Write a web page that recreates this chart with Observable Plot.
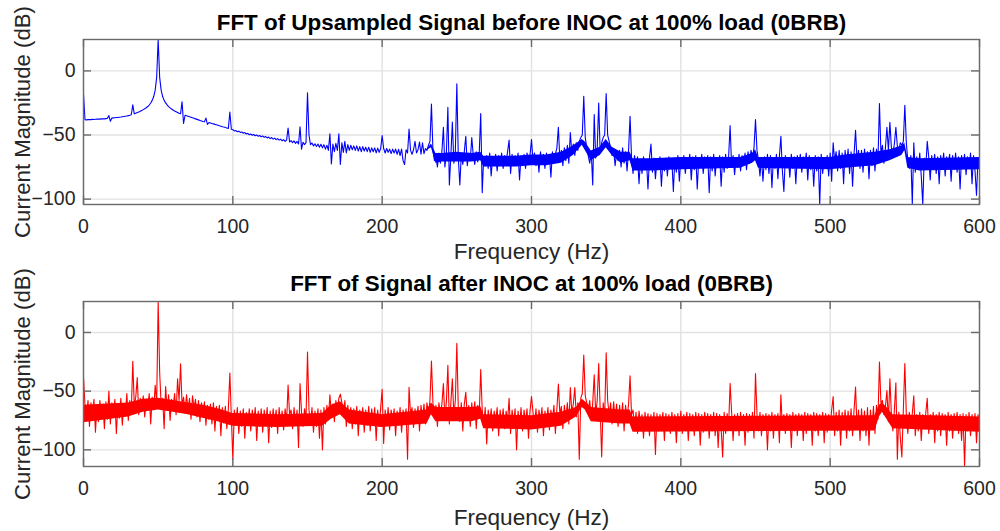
<!DOCTYPE html>
<html><head><meta charset="utf-8">
<script src="https://cdn.jsdelivr.net/npm/d3@7"></script>
<script src="https://cdn.jsdelivr.net/npm/@observablehq/plot@0.6"></script>
<style>
body{margin:0;background:#fff;font-family:"Liberation Sans",Arial,Helvetica,sans-serif;}
svg{display:block}
</style></head><body><div id="chart"></div>
<script>
// Frequency grid of the spectra (Hz), one sample per Hz
const freqHz = d3.range(0, 601);
const xTicks = [0, 100, 200, 300, 400, 500, 600];
const yTicks = [-100, -50, 0];
const titleTop = "FFT of Upsampled Signal before INOC at 100% load (0BRB)";
const titleBottom = "FFT of Signal after INOC at 100% load (0BRB)";
const xLabel = "Frequency (Hz)";
const yLabel = "Current Magnitude (dB)";
const yDomainTop = [-104.2, 24.5];
const yDomainBottom = [-114.2, 26.4];

// Magnitude (dB) before INOC at 0..600 Hz
const blueDb = [
-18, -38, -38.2, -38, -37.9, -38, -37.8, -37.9, -37.7, -37.6,
-37.5, -37.6, -37.4, -37.3, -37.4, -37.2, -37, -34.8, -39.3, -36.8,
-36.6, -36.5, -36.4, -36.3, -36.1, -36, -35.8, -35.6, -35.4, -35.2,
-34.9, -34.6, -34.2, -26.5, -33.5, -33, -32.5, -32, -31.4, -30.8,
-30.2, -29.5, -28.7, -27.8, -26.6, -25, -23, -20, -15, -5,
24.5, -5, -15, -20, -23, -25, -26.5, -27.8, -28.8, -29.7,
-30.5, -31.2, -31.8, -32.4, -33, -33.4, -24, -41, -34.6, -35,
-35.4, -35.8, -36.2, -36.6, -37, -37.4, -37.8, -38.2, -38.6, -39,
-39.4, -39.6, -36.8, -41.8, -40.2, -40.6, -41, -41.3, -41.7, -42,
-42.4, -42.8, -43.1, -43.5, -43.8, -44.2, -44.5, -44.9, -32, -45.5,
-45.8, -46.8, -46.4, -47.5, -47, -48, -47.6, -48.6, -48.1, -49.2,
-48.7, -49.8, -49.2, -50.2, -49.6, -50.6, -50, -51, -50.4, -51.4,
-50.8, -51.8, -51.2, -52.3, -51.6, -52.8, -52, -53.2, -52.4, -53.6,
-52.8, -54, -53.2, -54.5, -53.6, -55, -54, -44.5, -55.5, -54.4,
-56, -54.6, -56.5, -55, -57, -43.5, -61, -55.6, -57.5, -56,
-17, -50, -57.5, -56.2, -58.5, -56.8, -59, -57, -59.5, -57.2,
-60, -57.5, -61, -58, -62, -49, -72.6, -57, -63, -56.5,
-62, -49, -73, -56, -63.5, -55, -64, -57.5, -62, -58,
-61.5, -58.5, -62, -58.5, -62.5, -59, -63, -59, -62.5, -59.5,
-63, -59.5, -63.5, -60, -63, -60, -64, -60.2, -63.5, -60.5,
-50.5, -60.5, -64, -60.5, -63.5, -61, -64.5, -61, -64, -61,
-65, -61.2, -66, -61, -70, -73, -61.5, -64, -45.3, -62,
-65, -61.5, -55, -64, -61.5, -55.5, -65, -56, -64.5, -60.5,
-62, -58, -55, -25.8, -62, -70, -66, -75, -64, -72,
-63, -44, -75, -64, -28.4, -89, -66, -39.8, -72, -63,
-10, -68, -89, -65, -73, -63, -51, -74, -64, -70,
-52, -66, -73, -63, -71, -64, -33.3, -95, -67, -74,
-66, -76, -64, -82, -67, -73, -65, -78, -66, -72,
-64, -76, -66, -71, -63, -54, -80, -65, -74, -66,
-72, -64, -85, -66, -73, -65, -76, -64, -71, -66,
-53.6, -70, -64, -74, -66, -79, -63, -72, -65, -76,
-64, -71, -66, -83, -63, -72, -65, -60, -44, -70,
-62, -74, -60, -70, -58, -72, -48, -64, -57, -66,
-56, -62, -55, -52, -50, -19.8, -52, -60, -66, -72,
-63, -89, -34, -68, -60, -25, -64, -56, -52, -50,
-17.7, -50, -55, -60, -66, -62, -74, -64, -70, -62,
-75, -60, -72, -63, -78, -62, -35.4, -68, -80, -66,
-75, -67, -88, -69, -80, -67, -77, -70, -92, -68,
-57, -79, -68, -84, -70, -76, -67, -90, -69, -78,
-68, -82, -67, -76, -70, -94, -68, -79, -66, -86,
-68, -76, -66, -80, -69, -73, -65, -85, -67, -77,
-66, -92, -68, -75, -65, -80, -67, -74, -66, -95,
-67, -78, -65, -82, -68, -74, -66, -90, -67, -79,
-65, -76, -67, -42.7, -74, -66, -81, -68, -75, -65,
-78, -66, -73, -64, -77, -63, -72, -62, -68, -60,
-38, -62, -70, -82, -68, -86, -67, -77, -65, -80,
-66, -91, -68, -76, -65, -84, -67, -51, -78, -94,
-66, -75, -68, -83, -65, -76, -67, -88, -66, -74,
-65, -79, -67, -73, -64, -85, -66, -77, -68, -90,
-66, -78, -67, -104, -65, -80, -68, -74, -66, -82,
-64, -86, -56, -70, -63, -78, -62, -76, -64, -88,
-62, -74, -61, -80, -63, -90, -65, -46.3, -70, -62,
-76, -62, -79, -61, -72, -63, -84, -62, -74, -60,
-78, -61, -70, -25.5, -64, -58, -72, -60, -44, -62,
-40, -60, -64, -57, -44, -59, -62, -56, -58, -55,
-26.8, -56, -70, -76, -66, -104, -56, -79, -67, -76,
-64, -82, -104, -68, -76, -55, -67, -85, -66, -74,
-65, -80, -67, -88, -66, -75, -64, -82, -67, -73,
-65, -86, -66, -77, -64, -79, -67, -92, -66, -74,
-65, -81, -67, -76, -64, -88, -66, -78, -97, -68,
-72
];

// Dense noise core of the "before" trace (solid band in the picture)
const blueCoreHz = [230, 233, 236, 240, 250, 260, 266, 268, 280, 290, 300, 310, 320, 328, 334, 336, 340, 346, 350, 354, 360, 366, 368, 380, 400, 440, 448, 450, 452, 500, 510, 530, 540, 548, 550, 552, 560, 600];
const blueCoreLo = [-62, -60, -72, -71, -71, -71, -70, -75, -75, -75, -74, -74, -72, -66, -58, -62, -70, -66, -60, -66, -72, -70, -78, -78, -77, -76, -72, -70, -76, -77, -76, -74, -70, -66, -62, -76, -78, -77];
const blueCoreHi = [-61.5, -57, -64.5, -64.5, -63.5, -64.5, -63.5, -66.5, -66.5, -66.5, -65.5, -65.5, -63.5, -58.5, -53.5, -55.5, -62.5, -59.5, -53.5, -59.5, -63.5, -63.5, -68.5, -68.5, -67.5, -67.5, -64.5, -61.5, -67.5, -67.5, -65.5, -63.5, -61.5, -58.5, -56.5, -67.5, -68.5, -67.5];

// Magnitude (dB) after INOC at 0..600 Hz
const redDb = [
-38, -62, -74, -58, -80, -60, -70, -57, -85, -63,
-76, -58, -72, -61, -82, -59, -74, -50, -78, -60,
-70, -57, -86, -62, -73, -56, -79, -61, -71, -52,
-75, -58, -68, -24.5, -62, -55, -38.5, -70, -56, -66,
-54, -72, -57, -64, -52, -78, -55, -66, -45, -60,
26.4, -34, -62, -56, -82, -46, -66, -53, -75, -57,
-64, -52, -70, -39.5, -58, -26.6, -62, -55, -68, -53,
-66, -56, -74, -54, -64, -57, -72, -58, -76, -60,
-68, -59, -79, -62, -74, -61, -78, -60, -84, -63,
-75, -62, -88, -64, -77, -63, -82, -65, -34.5, -72,
-108, -66, -78, -64, -86, -67, -80, -65, -90, -68,
-79, -65, -84, -66, -77, -64, -92, -67, -80, -65,
-85, -66, -78, -64, -94, -67, -81, -65, -77, -66,
-86, -64, -79, -67, -83, -65, -76, -44.8, -70, -66,
-82, -64, -79, -66, -98, -43.6, -68, -80, -65, -74,
-16.7, -66, -78, -64, -85, -67, -80, -65, -90, -66,
-100, -64, -78, -62, -74, -53, -70, -61, -76, -58,
-68, -56, -52.6, -60, -72, -58, -80, -62, -75, -64,
-82, -65, -78, -63, -88, -66, -77, -64, -85, -66,
-79, -63, -84, -65, -77, -64, -92, -66, -80, -64,
-48.5, -94.5, -66, -78, -64, -83, -66, -76, -65, -88,
-67, -79, -64, -85, -66, -77, -65, -108, -46.7, -70,
-64, -81, -65, -76, -63, -84, -62, -74, -61, -78,
-60, -70, -58, -24.4, -60, -72, -62, -80, -60, -70,
-61, -43.6, -74, -59, -28, -78, -60, -39.5, -70, -58,
-9.3, -66, -76, -60, -84, -61, -51, -72, -62, -80,
-60, -74, -59, -82, -62, -70, -31.5, -66, -80, -64,
-95, -66, -78, -65, -84, -67, -76, -64, -88, -66,
-79, -65, -82, -67, -76, -56, -86, -66, -78, -65,
-100, -67, -80, -64, -84, -66, -77, -65, -90, -67,
-54.5, -68, -80, -65, -85, -66, -76, -64, -88, -67,
-78, -64, -83, -66, -75, -62, -86, -65, -44, -70,
-63, -82, -62, -74, -60, -78, -47, -68, -61, -47,
-72, -60, -108, -56, -52, -19.2, -54, -60, -66, -58,
-74, -60, -36, -70, -58, -26.4, -66, -106, -60, -72,
-17.3, -58, -70, -60, -78, -59, -74, -61, -80, -62,
-76, -60, -84, -62, -74, -61, -37, -70, -66, -82,
-68, -86, -67, -78, -70, -90, -68, -80, -69, -88,
-70, -82, -68, -104, -69, -84, -70, -79, -68, -92,
-69, -82, -70, -86, -68, -80, -70, -94, -69, -84,
-67, -86, -70, -80, -68, -92, -69, -83, -70, -88,
-68, -82, -69, -96, -70, -85, -68, -80, -69, -90,
-70, -84, -68, -88, -69, -98, -70, -82, -106, -68,
-86, -69, -80, -43.4, -68, -92, -70, -84, -69, -88,
-68, -82, -70, -96, -69, -85, -70, -80, -68, -90,
-34.9, -70, -84, -68, -88, -70, -82, -69, -100, -70,
-84, -68, -90, -70, -80, -69, -94, -53, -82, -70,
-86, -69, -80, -70, -98, -68, -84, -70, -88, -69,
-82, -70, -92, -68, -86, -69, -80, -70, -96, -68,
-84, -69, -88, -70, -82, -68, -94, -69, -85, -70,
-80, -66, -54.5, -88, -68, -84, -66, -96, -68, -82,
-66, -90, -67, -84, -65, -88, -66, -46.5, -82, -66,
-92, -65, -84, -67, -88, -64, -96, -66, -82, -63,
-86, -62, -74, -25.2, -60, -58, -70, -63, -49.5, -76,
-39.4, -70, -84, -66, -42.8, -108, -68, -90, -106, -66,
-26.4, -70, -86, -68, -80, -69, -54, -88, -70, -84,
-68, -92, -70, -82, -69, -56, -86, -70, -80, -68,
-94, -70, -84, -68, -88, -69, -82, -70, -96, -68,
-84, -70, -90, -69, -82, -68, -86, -70, -92, -69,
-114, -70, -84, -68, -88, -70, -82, -69, -94, -70,
-80
];

// Dense noise core of the "after" trace (solid band in the picture)
const redCoreHz = [0, 30, 40, 50, 60, 70, 80, 90, 100, 130, 160, 166, 172, 178, 200, 230, 233, 236, 260, 266, 268, 300, 320, 330, 334, 336, 340, 360, 366, 368, 530, 533, 535, 538, 542, 600];
const redCoreLo = [-77, -72, -68, -66, -68, -70, -73, -76, -80, -81, -80, -74, -70, -78, -81, -78, -70, -76, -76, -74, -82, -83, -80, -72, -64, -66, -76, -78, -78, -85, -84, -72, -68, -74, -82, -85];
const redCoreHi = [-62, -60, -57, -56, -58, -60, -62, -65, -69, -70, -69, -62, -59, -66, -70, -66, -60, -64, -64, -63, -70, -71, -68, -64, -57, -59, -64, -66, -66, -72, -71, -62, -60, -64, -70, -72];

const FONT = '"Liberation Sans", Arial, Helvetica, sans-serif';

function panel({values, coreHz, coreLo, coreHi, color, title, yDomain, height, marginTop, marginBottom, titleDy, xLabelDy}) {
  const width = 1000, marginLeft = 83, marginRight = 21;
  const innerH = height - marginTop - marginBottom;
  const innerW = width - marginLeft - marginRight;
  const tick = 8;
  const data = freqHz.map((f, i) => ({f, db: values[i]}));
  const core = coreHz.map((f, i) => ({f, lo: coreLo[i], hi: coreHi[i]}));
  const axisColor = "#6a6a6a";
  return Plot.plot({
    width, height, marginLeft, marginRight, marginTop, marginBottom,
    style: {fontFamily: FONT, fontSize: "19.5px", color: "#262626", background: "white", overflow: "visible"},
    x: {domain: [0, 600]},
    y: {domain: yDomain},
    marks: [
      Plot.gridX(xTicks, {stroke: "#e2e2e2", strokeOpacity: 1, strokeWidth: 1.4}),
      Plot.gridY(yTicks, {stroke: "#e2e2e2", strokeOpacity: 1, strokeWidth: 1.4}),
      Plot.areaY(core, {x: "f", y1: "lo", y2: "hi", fill: color, clip: true}),
      Plot.line(data, {x: "f", y: "db", stroke: color, strokeWidth: 1.1, clip: true}),
      Plot.frame({stroke: axisColor, strokeWidth: 1.4}),
      Plot.ruleX(xTicks, {x: d => d, insetTop: innerH - tick, stroke: axisColor, strokeWidth: 1.4}),
      Plot.ruleX(xTicks, {x: d => d, insetBottom: innerH - tick, stroke: axisColor, strokeWidth: 1.4}),
      Plot.ruleY(yTicks, {y: d => d, insetRight: innerW - tick, stroke: axisColor, strokeWidth: 1.4}),
      Plot.ruleY(yTicks, {y: d => d, insetLeft: innerW - tick, stroke: axisColor, strokeWidth: 1.4}),
      Plot.axisX(xTicks, {tickSize: 0, tickPadding: 15, label: null, fontSize: 19.5}),
      Plot.axisY(yTicks, {tickSize: 0, tickPadding: 8, label: null, fontSize: 19.5}),
      Plot.text([title], {text: d => d, frameAnchor: "top", textAnchor: "middle", lineAnchor: "middle", dy: titleDy, fontWeight: "bold", fontSize: 22.4, fill: "#000"}),
      Plot.text([xLabel], {text: d => d, frameAnchor: "bottom", textAnchor: "middle", lineAnchor: "middle", dy: xLabelDy, fontSize: 22.6, fill: "#262626"}),
      Plot.text([yLabel], {text: d => d, frameAnchor: "left", textAnchor: "middle", lineAnchor: "middle", dx: -61, rotate: -90, fontSize: 22.2, fill: "#262626"})
    ]
  });
}

const root = document.getElementById("chart");
root.append(panel({values: blueDb, coreHz: blueCoreHz, coreLo: blueCoreLo, coreHi: blueCoreHi, color: "#0000ff", title: titleTop, yDomain: yDomainTop,
  height: 265, marginTop: 39, marginBottom: 61, titleDy: -16.5, xLabelDy: 47.5}));
root.append(panel({values: redDb, coreHz: redCoreHz, coreLo: redCoreLo, coreHi: redCoreHi, color: "#ff0000", title: titleBottom, yDomain: yDomainBottom,
  height: 266, marginTop: 36, marginBottom: 65, titleDy: -17.5, xLabelDy: 51}));
</script></body></html>
